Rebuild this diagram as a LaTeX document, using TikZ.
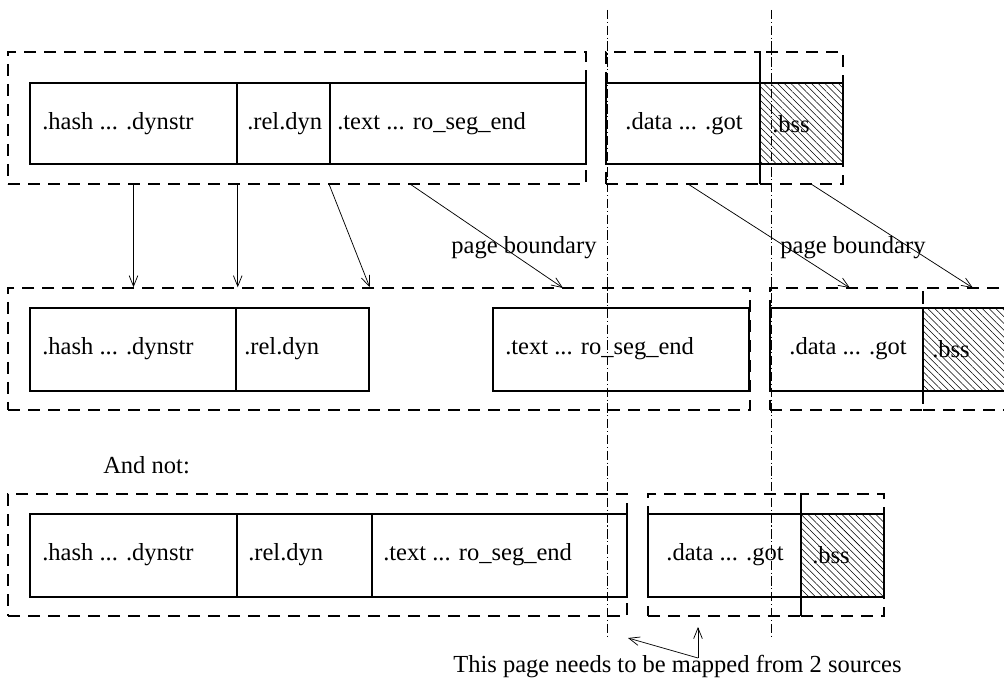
\documentclass[tikz,border=0pt]{standalone}
\usepackage{fontspec}
\setmainfont{Liberation Serif}
\usetikzlibrary{fit,patterns.meta,arrows.meta}
\begin{document}
\begin{tikzpicture}[x=0.75pt,y=-0.75pt,
  sect/.style={draw,line width=1.1pt,inner sep=0pt,font=\fontsize{18.4}{22}\selectfont},
  bssbox/.style={sect,pattern={Lines[angle=-45,distance=3.6pt,line width=0.4pt]}},
  seg/.style={draw,line width=1.1pt,dash pattern=on 9pt off 6pt,inner sep=0pt},
  bound/.style={draw,line width=0.45pt,dash pattern=on 7pt off 2pt on 0.8pt off 2pt},
  lbl/.style={font=\fontsize{18.4}{22}\selectfont,inner sep=0pt},
  conn/.style={draw,line width=0.55pt,-{Straight Barb[length=8pt,width=6.5pt,line width=0.55pt]}}]
\useasboundingbox (0,0) rectangle (1004,684);
\clip (0,0) rectangle (1004,684);

% ---------- row 1 ----------
\node[seg,fit={(8,52)(586,184)}] (A) {};
\node[seg,fit={(606,52)(760,184)}] (B) {};
\node[seg,fit={(760,52)(843,184)}] (C) {};
\node[sect,fit={(30,83)(237,164)}] (a1) {};
\node[sect,fit={(237,83)(330,164)}] (a2) {};
\node[sect,fit={(330,83)(586,164)}] (a3) {};
\node[sect,fit={(606,83)(760,164)}] (a4) {};
\node[bssbox,fit={(760,83)(843,164)}] (a5) {};
\node[lbl,anchor=west] (ta1) at (42,124) {.hash ... .dynstr};
\node[lbl,anchor=west] (ta2) at (247,124) {.rel.dyn};
\node[lbl,anchor=west] (ta3) at (337,124) {.text ... ro\_seg\_end};
\node[lbl] (ta4) at (684,124) {.data ... .got};
\node[lbl,anchor=west] (ta5) at (772,124) {.bss};

% ---------- row 2 ----------
\node[seg,fit={(8,288)(750,410)}] (D) {};
\node[seg,fit={(770,288)(923,410)}] (E) {};
\node[seg,fit={(923,288)(1040,410)}] (F) {};
\node[sect,fit={(30,308)(236,391)}] (b1) {};
\node[sect,fit={(236,308)(369,391)}] (b2) {};
\node[sect,fit={(493,308)(749,391)}] (b3) {};
\node[sect,fit={(770,308)(923,391)}] (b4) {};
\node[bssbox,fit={(923,308)(1040,391)}] (b5) {};
\node[lbl,anchor=west] (tb1) at (42,349) {.hash ... .dynstr};
\node[lbl,anchor=west] (tb2) at (244,349) {.rel.dyn};
\node[lbl,anchor=west] (tb3) at (505,349) {.text ... ro\_seg\_end};
\node[lbl] (tb4) at (848,349) {.data ... .got};
\node[lbl,anchor=west] (tb5) at (932,349) {.bss};

% ---------- row 3 ----------
\node[lbl,anchor=west] (andnot) at (103,465) {And not:};
\node[seg,fit={(8,494)(627,616)}] (G) {};
\node[seg,fit={(648,494)(801,616)}] (H) {};
\node[seg,fit={(801,494)(884,616)}] (I) {};
\node[sect,fit={(30,514)(237,597)}] (c1) {};
\node[sect,fit={(237,514)(372,597)}] (c2) {};
\node[sect,fit={(372,514)(627,597)}] (c3) {};
\node[sect,fit={(648,514)(801,597)}] (c4) {};
\node[bssbox,fit={(801,514)(884,597)}] (c5) {};
\node[lbl,anchor=west] (tc1) at (42,555) {.hash ... .dynstr};
\node[lbl,anchor=west] (tc2) at (248,555) {.rel.dyn};
\node[lbl,anchor=west] (tc3) at (383,555) {.text ... ro\_seg\_end};
\node[lbl] (tc4) at (725,555) {.data ... .got};
\node[lbl,anchor=west] (tc5) at (812,555) {.bss};

% ---------- page boundaries ----------
\coordinate (pb1t) at (607,10);
\coordinate (pb1b) at (607,636);
\coordinate (pb2t) at (771,10);
\coordinate (pb2b) at (771,638);
\draw[bound] (pb1t) -- (pb1b);
\draw[bound] (pb2t) -- (pb2b);
\node[lbl] (pbl1) at (524,248) {page boundary};
\node[lbl] (pbl2) at (853,248) {page boundary};

% ---------- mapping arrows ----------
\draw[conn] (A.south -| a1.south) -- (D.north -| a1.south);
\draw[conn] (A.south -| a1.south east) -- (D.north -| a1.south east);
\draw[conn] (A.south -| a3.south west) -- (D.north -| b2.north east);
\coordinate (s4) at (410,184);
\coordinate (e4) at (563,288);
\draw[conn] (s4) -- (e4);
\coordinate (s5) at (688,184);
\coordinate (e5) at (850,288);
\draw[conn] (s5) -- (e5);
\coordinate (s6) at (811,184);
\coordinate (e6) at (973,288);
\draw[conn] (s6) -- (e6);

% ---------- note ----------
\node[lbl,anchor=west] (note) at (453,667) {This page needs to be mapped from 2 sources};
\coordinate (src) at (698,658);
\coordinate (d1) at (628,638);
\coordinate (d2) at (698,627);
\draw[conn] (src) -- (d1);
\draw[conn] (src) -- (d2);
\end{tikzpicture}
\end{document}
